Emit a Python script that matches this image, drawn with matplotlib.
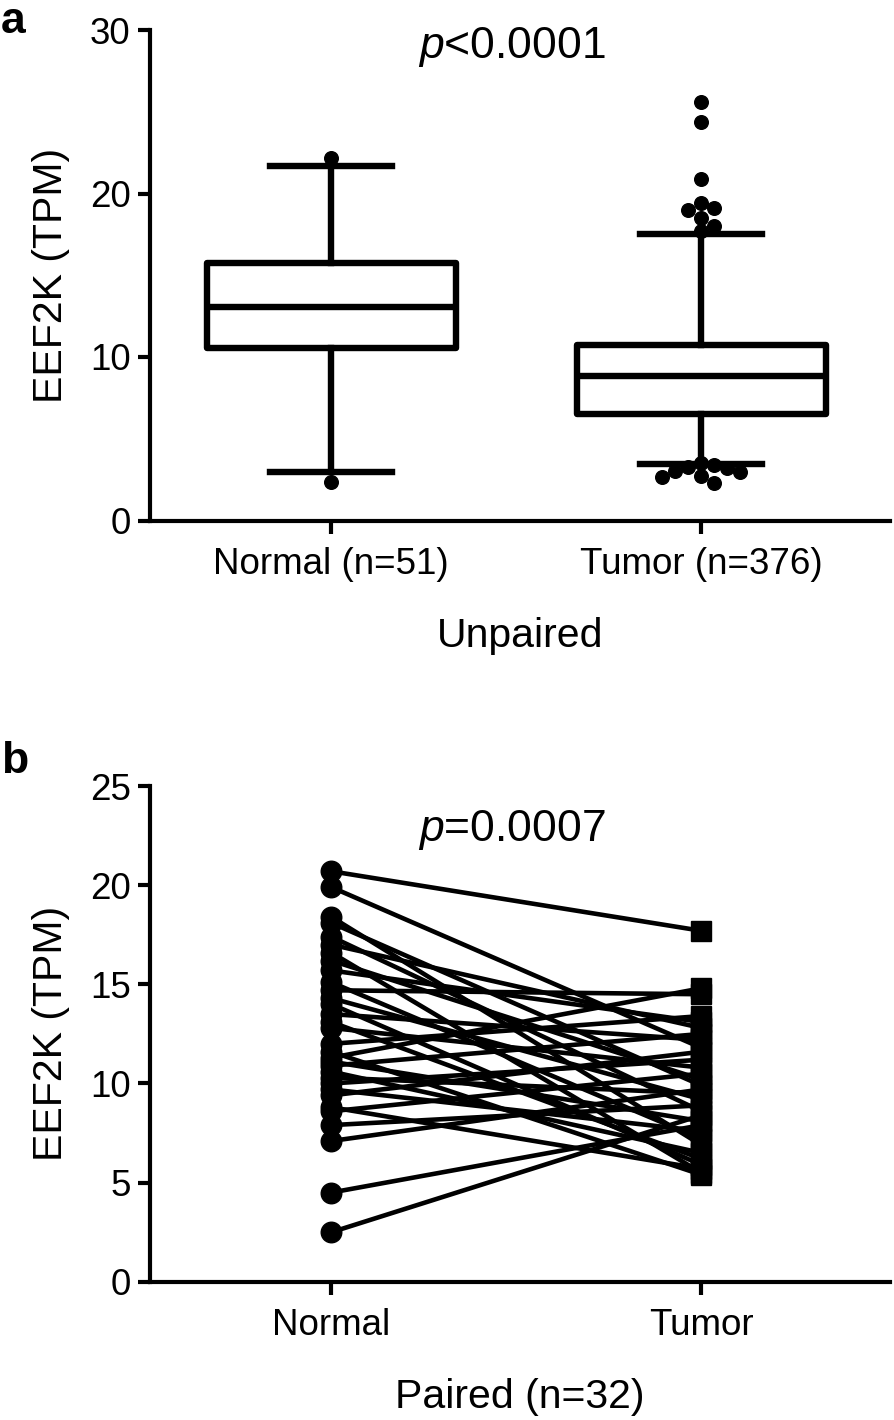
import numpy as np
import matplotlib
matplotlib.use("Agg")
import matplotlib.pyplot as plt

plt.rcParams['font.family'] = ['Liberation Sans', 'DejaVu Sans']
plt.rcParams['mathtext.fontset'] = 'custom'
plt.rcParams['mathtext.it'] = 'Liberation Sans:italic'
plt.rcParams['mathtext.rm'] = 'Liberation Sans'

# ---------------- Panel a data (box plot stats, TPM) ----------------
groups_a = ["Normal (n=51)", "Tumor (n=376)"]
box_q1 = [10.55, 6.49]
box_med = [13.06, 8.86]
box_q3 = [15.75, 10.73]
whisk_lo = [2.97, 3.43]
whisk_hi = [21.7, 17.52]
fliers_normal = [22.2, 2.35]
fliers_tumor = [25.6, 24.35, 20.9, 19.4, 19.1, 19.0, 18.5, 18.0, 17.7,
                3.54, 3.39, 3.29, 3.23, 3.05, 2.98, 2.72, 2.64, 2.27]
yticks_a = [0, 10, 20, 30]
p_text_a = r"$p$<0.0001"
xlabel_a = "Unpaired"

# ---------------- Panel b data (paired, TPM) ----------------
groups_b = ["Normal", "Tumor"]
paired_normal = [20.7, 19.9, 18.4, 18.1, 17.4, 17.0, 16.6, 16.2, 15.7, 15.1,
                 14.7, 14.3, 14.0, 13.5, 13.1, 12.8, 12.0, 11.6, 11.3, 11.1,
                 10.9, 10.6, 10.3, 10.0, 9.7, 9.4, 8.8, 8.6, 7.9, 7.1, 4.5, 2.5]
paired_tumor = [17.7, 11.8, 6.9, 9.9, 8.6, 12.8, 5.5, 10.2, 13.1, 7.2,
                14.5, 9.2, 5.9, 12.2, 6.2, 10.8, 13.4, 5.4, 14.8, 8.1,
                12.5, 6.5, 9.5, 11.2, 7.6, 11.6, 5.7, 10.5, 8.9, 9.7, 7.9, 8.4]
yticks_b = [0, 5, 10, 15, 20, 25]
p_text_b = r"$p$=0.0007"
xlabel_b = "Paired (n=32)"
ylabel = "EEF2K (TPM)"

W, H = 894, 1420
fig = plt.figure(figsize=(W / 100, H / 100), dpi=100)

ax1 = fig.add_axes([150 / W, 1 - 520.5 / H, 740 / W, 490.5 / H])
ax2 = fig.add_axes([150 / W, 1 - 1281.8 / H, 740 / W, 495.8 / H])

TICK_FS = 26.5
YT_FS = 26.5
LABEL_FS = 29.5


def style_axes(ax):
    for s in ["top", "right"]:
        ax.spines[s].set_visible(False)
    for s in ["left", "bottom"]:
        ax.spines[s].set_linewidth(3)
    ax.tick_params(axis="both", direction="out", length=9, width=3, color="black")
    ax.tick_params(axis="y", labelsize=YT_FS, pad=5)
    ax.tick_params(axis="x", labelsize=TICK_FS, pad=10)


# ---------------- Panel a ----------------
positions = [1, 2]
stats = []
for i in range(2):
    stats.append(dict(med=box_med[i], q1=box_q1[i], q3=box_q3[i],
                      whislo=whisk_lo[i], whishi=whisk_hi[i], fliers=[]))
lw_box = 4.6
ax1.bxp(stats, positions=positions, widths=0.674, capwidths=0.33,
        showfliers=False, patch_artist=True,
        boxprops=dict(facecolor="white", edgecolor="black", linewidth=lw_box, joinstyle="round"),
        medianprops=dict(color="black", linewidth=lw_box),
        whiskerprops=dict(color="black", linewidth=lw_box),
        capprops=dict(color="black", linewidth=lw_box))

ax1.set_xlim(0.51, 2.51)
ax1.set_ylim(0, 30)
ax1.set_yticks(yticks_a)
ax1.set_xticks(positions)
ax1.set_xticklabels(groups_a)
style_axes(ax1)

# simple beeswarm offsets for outlier dots (computed in pixel space)
marker_d_px = 13.0
px_per_x = 740 / 2.0
px_per_y = 490.5 / 30.0


def swarm(values, center, diam):
    placed = []
    order = np.argsort(values)[::-1]
    res = [None] * len(values)
    cand_offsets = [0.0]
    for j in range(1, 20):
        cand_offsets += [j * diam * 0.5, -j * diam * 0.5]
    for idx in order:
        vy = values[idx] * px_per_y
        for off in cand_offsets:
            ok = True
            for (px, py) in placed:
                if (px - off) ** 2 + (py - vy) ** 2 < (diam * 0.98) ** 2:
                    ok = False
                    break
            if ok:
                placed.append((off, vy))
                res[idx] = center + off / px_per_x
                break
    return res


ms_flier = 9.8
xs_n = swarm(fliers_normal, 1, marker_d_px)
ax1.plot(xs_n, fliers_normal, "o", color="black", markersize=ms_flier, zorder=5, clip_on=False)
xs_t = swarm(fliers_tumor, 2, marker_d_px)
ax1.plot(xs_t, fliers_tumor, "o", color="black", markersize=ms_flier, zorder=5, clip_on=False)

ax1.set_xlabel(xlabel_a, fontsize=LABEL_FS, labelpad=25)
ax1.set_ylabel(ylabel, fontsize=LABEL_FS, labelpad=14)
fig.text(512 / W, 1 - 47 / H, p_text_a, fontsize=32, ha="center", va="center")
fig.text(1 / W, 1 - 1 / H, "a", fontsize=32, fontweight="bold", ha="left", va="top")

# ---------------- Panel b ----------------
for n_val, t_val in zip(paired_normal, paired_tumor):
    ax2.plot([1, 2], [n_val, t_val], color="black", linewidth=3.3, zorder=2,
             solid_capstyle="round")
ax2.plot([1] * len(paired_normal), paired_normal, "o", color="black", markersize=14.8,
         zorder=3, clip_on=False)
ax2.plot([2] * len(paired_tumor), paired_tumor, "s", color="black", markersize=14.4,
         zorder=3, clip_on=False)

ax2.set_xlim(0.51, 2.51)
ax2.set_ylim(0, 25)
ax2.set_yticks(yticks_b)
ax2.set_xticks([1, 2])
ax2.set_xticklabels(groups_b)
style_axes(ax2)
ax2.set_xlabel(xlabel_b, fontsize=LABEL_FS, labelpad=25)
ax2.set_ylabel(ylabel, fontsize=LABEL_FS, labelpad=14)
fig.text(512 / W, 1 - 830 / H, p_text_b, fontsize=32, ha="center", va="center")
fig.text(1 / W, 1 - 741 / H, "b", fontsize=32, fontweight="bold", ha="left", va="top")

fig.savefig("out.png", dpi=100)
